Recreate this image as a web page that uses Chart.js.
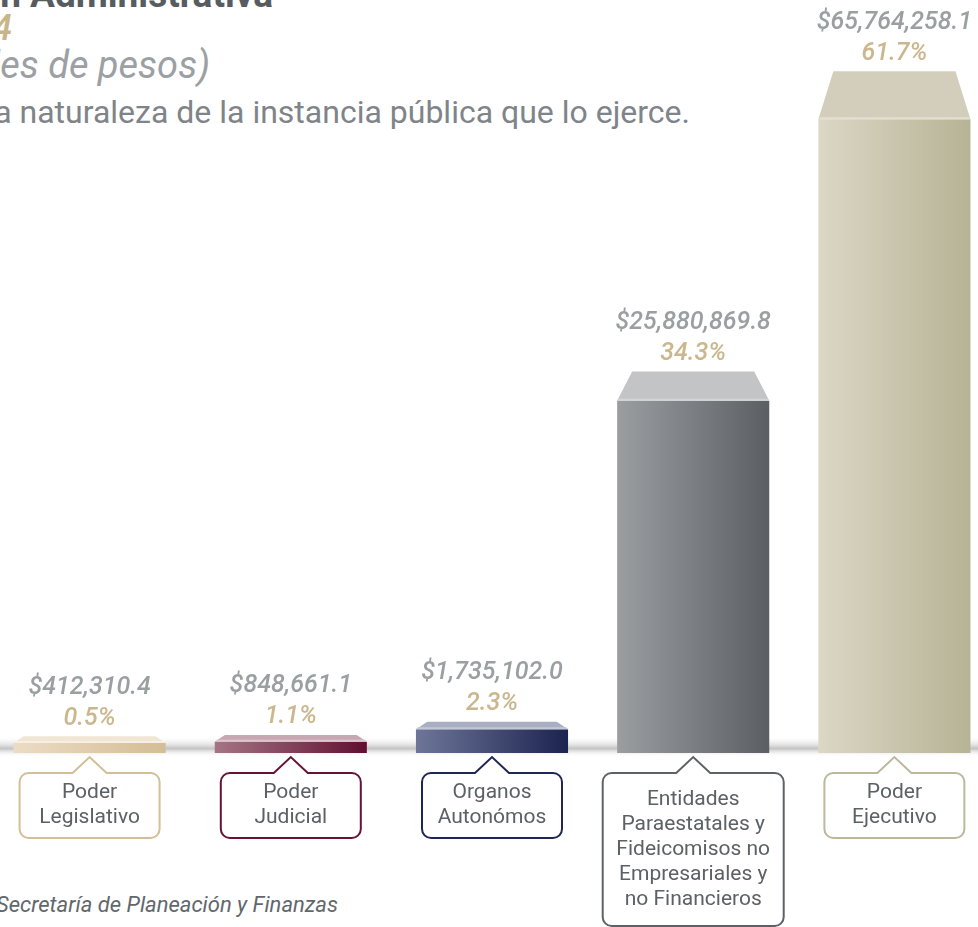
<!DOCTYPE html>
<html lang="es">
<head>
<meta charset="utf-8">
<script src="https://cdn.jsdelivr.net/npm/chart.js@4/dist/chart.umd.min.js"></script>
<style>
  html, body { margin:0; padding:0; background:#ffffff; }
  body { width:978px; height:927px; overflow:hidden; position:relative; font-family: Roboto, "Noto Sans", sans-serif; }
  .t { position:absolute; white-space:nowrap; line-height:1; }
  #t1 { right:705px; top:-24px; font-size:37px; font-weight:700; color:#575c60; }
  #t2 { right:966px; top:10px; font-size:36px; font-style:italic; font-weight:500; color:#c8b68a; }
  #t3 { right:768px; top:46px; font-size:38px; font-style:italic; color:#9ba0a4; }
  #t4 { right:288px; top:96px; font-size:32px; color:#7f8488; }
  #src { right:640px; top:894px; font-size:22px; font-style:italic; color:#62676b; }
  #wrap { position:absolute; left:-11px; top:0; width:1006px; height:927px; }
</style>
</head>
<body>
<div class="t" id="t1">Gasto por Clasificación Administrativa</div>
<div class="t" id="t2">2024</div>
<div class="t" id="t3">(Miles de pesos)</div>
<div class="t" id="t4">Distribución del gasto según la naturaleza de la instancia pública que lo ejerce.</div>
<div class="t" id="src">Fuente: Secretaría de Planeación y Finanzas</div>
<div id="wrap"><canvas id="c" width="1006" height="927"></canvas></div>
<script>
// ---- Data ----
const categories = [
  ['Poder', 'Legislativo'],
  ['Poder', 'Judicial'],
  ['Organos', 'Autonómos'],
  ['Entidades', 'Paraestatales y', 'Fideicomisos no', 'Empresariales y', 'no Financieros'],
  ['Poder', 'Ejecutivo']
];
const amounts = [412310.4, 848661.1, 1735102.0, 25880869.8, 65764258.1];
const shares = [0.5, 1.1, 2.3, 34.3, 61.7];

// ---- Styles ----
const palette = [
  { light:'#ecdcc5', dark:'#d4bd96', top:'#f1e6d4', edge:'#f6efe4', border:'#d2be97' },
  { light:'#a57584', dark:'#600f30', top:'#c9a7b2', edge:'#dcc5cc', border:'#6a1236' },
  { light:'#6d7699', dark:'#1c234f', top:'#a9afc3', edge:'#c3c8d6', border:'#1f2654' },
  { light:'#9b9ea1', dark:'#5b5f63', top:'#c3c4c6', edge:'#d3d4d6', border:'#5d6266' },
  { light:'#dcd7c6', dark:'#b7b395', top:'#d3cebb', edge:'#e2dfd2', border:'#bdb79c' }
];
const BAR_FRAC = 0.756;

function fmtAmount(v) {
  return '$' + v.toLocaleString('en-US', { minimumFractionDigits: 1, maximumFractionDigits: 1 });
}

function depthFor(h) { return 6 + 0.066 * h; }

const decorPlugin = {
  id: 'decor',
  beforeDatasetsDraw(chart) {
    const ctx = chart.ctx;
    const base = chart.scales.y.getPixelForValue(0);
    ctx.save();
    const g = ctx.createLinearGradient(0, base - 17, 0, base + 4);
    g.addColorStop(0, 'rgba(255,255,255,0)');
    g.addColorStop(0.6, 'rgba(185,185,185,0.85)');
    g.addColorStop(1, 'rgba(255,255,255,0)');
    ctx.fillStyle = g;
    ctx.fillRect(0, base - 17, chart.width, 21);
    ctx.restore();
  },
  afterDatasetsDraw(chart) {
    const ctx = chart.ctx;
    const meta = chart.getDatasetMeta(0);
    ctx.save();
    meta.data.forEach((el, i) => {
      const p = palette[i];
      const x0 = el.x - el.width / 2, x1 = el.x + el.width / 2;
      const yF = el.y;
      const h = el.base - el.y;
      const d = depthFor(h);
      const inset = Math.min(15, d * 1.5);
      // top face
      ctx.beginPath();
      ctx.moveTo(x0, yF);
      ctx.lineTo(x1, yF);
      ctx.lineTo(x1 - inset, yF - d);
      ctx.lineTo(x0 + inset, yF - d);
      ctx.closePath();
      ctx.fillStyle = p.top;
      ctx.fill();
      // highlight strip at front edge
      ctx.beginPath();
      ctx.moveTo(x0, yF);
      ctx.lineTo(x1, yF);
      ctx.lineTo(x1 - 2, yF - 2);
      ctx.lineTo(x0 + 2, yF - 2);
      ctx.closePath();
      ctx.fillStyle = p.edge;
      ctx.fill();

      // value labels
      const backY = yF - d;
      const pctY = backY - 18;
      const valY = pctY - 31;
      ctx.textAlign = 'center';
      ctx.textBaseline = 'middle';
      ctx.font = 'italic 500 25px Roboto, sans-serif';
      ctx.fillStyle = '#9a9fa2';
      ctx.fillText(fmtAmount(amounts[i]), el.x, valY);
      ctx.fillStyle = '#cbb78d';
      ctx.fillText(shares[i].toFixed(1) + '%', el.x, pctY);

      // callout box
      const lines = categories[i];
      const bw = lines.length > 2 ? 181 : 140;
      const bh = lines.length * 25 + (lines.length > 2 ? 28 : 15);
      const bx = el.x - bw / 2;
      const by = el.base + 20;
      const r = 9;
      const nh = 16, nw = 17;
      ctx.beginPath();
      ctx.moveTo(bx + r, by);
      ctx.lineTo(el.x - nw, by);
      ctx.lineTo(el.x, by - nh);
      ctx.lineTo(el.x + nw, by);
      ctx.lineTo(bx + bw - r, by);
      ctx.arcTo(bx + bw, by, bx + bw, by + r, r);
      ctx.lineTo(bx + bw, by + bh - r);
      ctx.arcTo(bx + bw, by + bh, bx + bw - r, by + bh, r);
      ctx.lineTo(bx + r, by + bh);
      ctx.arcTo(bx, by + bh, bx, by + bh - r, r);
      ctx.lineTo(bx, by + r);
      ctx.arcTo(bx, by, bx + r, by, r);
      ctx.closePath();
      ctx.fillStyle = '#ffffff';
      ctx.fill();
      ctx.lineWidth = 2;
      ctx.strokeStyle = p.border;
      ctx.stroke();

      ctx.font = '21px Roboto, sans-serif';
      ctx.fillStyle = '#5c6166';
      const pad = (bh - lines.length * 25) / 2;
      lines.forEach((ln, k) => {
        ctx.fillText(ln, el.x, by + pad + 12.5 + k * 25);
      });
    });
    ctx.restore();
  }
};

new Chart(document.getElementById('c'), {
  type: 'bar',
  data: {
    labels: categories.map(c => c.join(' ')),
    datasets: [{
      data: shares,
      borderWidth: 0,
      minBarLength: 10,
      categoryPercentage: 1,
      barPercentage: BAR_FRAC,
      backgroundColor: (ctx) => {
        const c = ctx.chart;
        const p = palette[ctx.dataIndex] || palette[0];
        const xs = c.scales && c.scales.x;
        if (!xs || !c.chartArea || ctx.type !== 'data') return p.dark;
        const cx = xs.getPixelForValue(ctx.dataIndex);
        const hw = (xs.width / categories.length) * BAR_FRAC / 2;
        const g = c.ctx.createLinearGradient(cx - hw, 0, cx + hw, 0);
        g.addColorStop(0, p.light);
        g.addColorStop(1, p.dark);
        return g;
      }
    }]
  },
  options: {
    responsive: false,
    animation: false,
    devicePixelRatio: 1,
    layout: { padding: { top: 0, bottom: 174, left: 0, right: 0 } },
    plugins: { legend: { display: false }, tooltip: { enabled: false }, title: { display: false } },
    scales: {
      x: { display: false, offset: true, grid: { display: false } },
      y: { display: false, min: 0, max: 73.3, grid: { display: false } }
    }
  },
  plugins: [decorPlugin]
});
</script>
</body>
</html>
